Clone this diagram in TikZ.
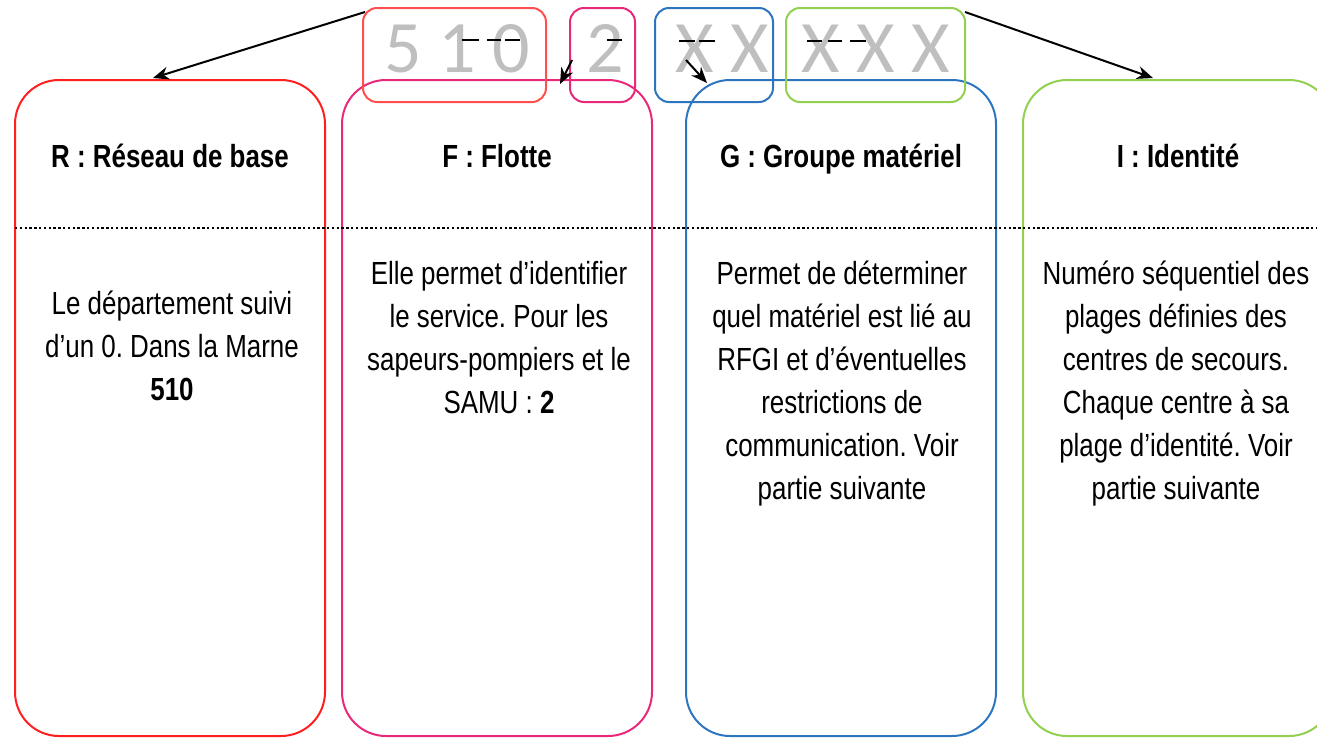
\documentclass[tikz,border=0pt]{standalone}
\usepackage{fontspec}
\setmainfont{Liberation Sans}[FakeStretch=0.81]
\newfontfamily\digitfont{Carlito}
\usetikzlibrary{arrows.meta}
\definecolor{cR}{HTML}{FF1F1F}
\definecolor{cRs}{HTML}{FF4F4F}
\definecolor{cP}{HTML}{E9287A}
\definecolor{cB}{HTML}{2E75C0}
\definecolor{cG}{HTML}{92D050}
\definecolor{codegrey}{HTML}{BFBFBF}
\frenchspacing
\begin{document}
\begin{tikzpicture}[x=0.5pt,y=-0.5pt,
  bigbox/.style={draw, line width=1pt, rounded corners=22pt, minimum width=155pt, minimum height=328pt, inner sep=0pt},
  smallbox/.style={draw, line width=1pt, rounded corners=7pt, minimum height=47pt, inner sep=0pt},
  head/.style={font=\fontsize{16}{20}\selectfont\bfseries, anchor=base, inner sep=0pt},
  body/.style={font=\fontsize{16}{21.5}\selectfont, align=center, anchor=north, inner sep=0pt},
  code/.style={font=\digitfont\fontsize{37}{40}\selectfont, text=codegrey, anchor=base, inner sep=0pt},
  arr/.style={-{Stealth[length=8pt,width=6.5pt]}, line width=1pt},
  glitch/.style={line width=1pt, black},
]
\useasboundingbox (0,0) rectangle (1317,739);

% big boxes
\node[bigbox, draw=cR] (R) at (170,408) {};
\node[bigbox, draw=cP] (F) at (497,408) {};
\node[bigbox, draw=cB] (G) at (841,408) {};
\node[bigbox, draw=cG] (I) at (1178,408) {};

% dotted separator
\coordinate (sepL) at (15,228);
\coordinate (sepR) at (1317,228);
\draw[line width=0.8pt, dash pattern=on 1.2pt off 1.2pt] (sepL) -- (sepR);

% small code boxes
\node[smallbox, draw=cRs, minimum width=91.5pt] (rs) at (454.5,55) {};
\node[smallbox, draw=cP, minimum width=32.5pt] (ps) at (602.5,55) {};
\node[smallbox, draw=cB, minimum width=59pt] (bs) at (714,55) {};
\node[smallbox, draw=cG, minimum width=89.5pt] (gs) at (875.5,55) {};

% code text
\node[code] (t510) at (457,72) {5 1 0};
\node[code] (t2) at (605,72) {2};
\node[code] (tXX) at (722,72) {X X};
\node[code] (tXXX) at (876,72) {X X X};

% small dashes
\draw[glitch] (462,40) -- (479,40);
\draw[glitch] (487,40) -- (501,40);
\draw[glitch] (505,40) -- (520,40);
\draw[glitch] (607,40) -- (622,40);
\draw[glitch] (679,41) -- (695,41);
\draw[glitch] (699,41) -- (715,41);
\draw[glitch] (807,41) -- (822,41);
\draw[glitch] (828,41) -- (842,41);
\draw[glitch] (850,41) -- (866,41);

% headings
\node[head] (hR) at (170,167) {R : Réseau de base};
\node[head] (hF) at (497,167) {F : Flotte};
\node[head] (hG) at (841,167) {G : Groupe matériel};
\node[head] (hI) at (1178,167) {I : Identité};

% bodies
\node[body] (bR) at (172,291) {Le département suivi\\d’un 0. Dans la Marne\\\textbf{510}};
\node[body] (bF) at (499,261) {Elle permet d’identifier\\le service. Pour les\\sapeurs-pompiers et le\\SAMU : \textbf{2}};
\node[body] (bG) at (842,261) {Permet de déterminer\\quel matériel est lié au\\RFGI et d’éventuelles\\restrictions de\\communication. Voir\\partie suivante};
\node[body] (bI) at (1176,261) {Numéro séquentiel des\\plages définies des\\centres de secours.\\Chaque centre à sa\\plage d’identité. Voir\\partie suivante};

% arrows
\coordinate (a1s) at (365,12);
\coordinate (a1e) at (153,78);
\coordinate (a4s) at (965,12);
\coordinate (a4e) at (1153,78);
\coordinate (a2s) at (572,60);
\coordinate (a2e) at (560,84);
\coordinate (a3s) at (686,60);
\coordinate (a3e) at (707,83);
\draw[arr] (a1s) -- (a1e);
\draw[arr] (a4s) -- (a4e);
\draw[arr] (a2s) -- (a2e);
\draw[arr] (a3s) -- (a3e);
\end{tikzpicture}
\end{document}
